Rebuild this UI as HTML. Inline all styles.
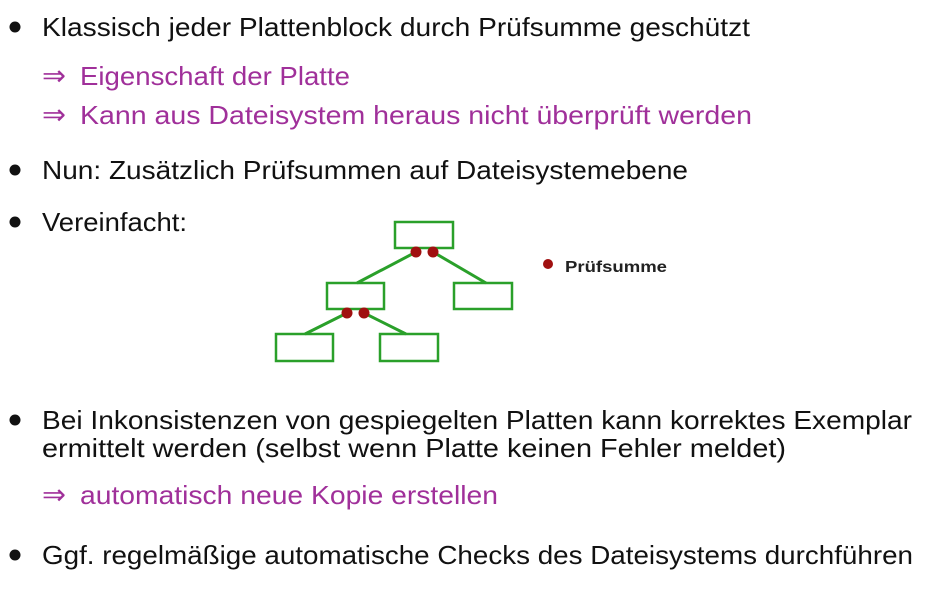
<!DOCTYPE html>
<html><head><meta charset="utf-8"><style>
html,body{margin:0;padding:0;background:#fff;}
svg{display:block}
text{font-family:"Liberation Sans",sans-serif;font-size:26px;fill:#111;}
.p{fill:#a0309a;}
.a{font-size:28px;}
</style></head><body>
<svg width="948" height="600" viewBox="0 0 948 600">
<g fill="#111">
<circle cx="15" cy="27" r="5.5"/>
<circle cx="15" cy="170" r="5.5"/>
<circle cx="15" cy="222" r="5.5"/>
<circle cx="15" cy="420" r="5.5"/>
<circle cx="15" cy="555" r="5.5"/>
</g>
<text x="42" y="36" textLength="708" lengthAdjust="spacingAndGlyphs">Klassisch jeder Plattenblock durch Prüfsumme geschützt</text>
<text class="p a" x="42" y="85" textLength="24" lengthAdjust="spacingAndGlyphs">⇒</text>
<text class="p" x="80" y="85" textLength="270" lengthAdjust="spacingAndGlyphs">Eigenschaft der Platte</text>
<text class="p a" x="42" y="124" textLength="24" lengthAdjust="spacingAndGlyphs">⇒</text>
<text class="p" x="80" y="124" textLength="672" lengthAdjust="spacingAndGlyphs">Kann aus Dateisystem heraus nicht überprüft werden</text>
<text x="42" y="179" textLength="646" lengthAdjust="spacingAndGlyphs">Nun: Zusätzlich Prüfsummen auf Dateisystemebene</text>
<text x="42" y="231" textLength="145" lengthAdjust="spacingAndGlyphs">Vereinfacht:</text>
<text x="42" y="429" textLength="870" lengthAdjust="spacingAndGlyphs">Bei Inkonsistenzen von gespiegelten Platten kann korrektes Exemplar</text>
<text x="42" y="457" textLength="744" lengthAdjust="spacingAndGlyphs">ermittelt werden (selbst wenn Platte keinen Fehler meldet)</text>
<text class="p a" x="42" y="504" textLength="24" lengthAdjust="spacingAndGlyphs">⇒</text>
<text class="p" x="80" y="504" textLength="418" lengthAdjust="spacingAndGlyphs">automatisch neue Kopie erstellen</text>
<text x="42" y="564" textLength="871" lengthAdjust="spacingAndGlyphs">Ggf. regelmäßige automatische Checks des Dateisystems durchführen</text>

<g stroke="#2aa02a" stroke-width="2.5" fill="none">
<rect x="395" y="222" width="58" height="26"/>
<rect x="327" y="283" width="57" height="26"/>
<rect x="454" y="283" width="58" height="26"/>
<rect x="276" y="334" width="57" height="27"/>
<rect x="380" y="334" width="58" height="27"/>
</g>
<g stroke="#2aa02a" stroke-width="3" fill="none">
<line x1="416" y1="252" x2="357" y2="283"/>
<line x1="433" y1="252" x2="486" y2="283"/>
<line x1="347" y1="313" x2="305" y2="334"/>
<line x1="364" y1="313" x2="406" y2="334"/>
</g>
<g fill="#a01010">
<circle cx="416" cy="252" r="5.5"/>
<circle cx="433" cy="252" r="5.5"/>
<circle cx="347" cy="313" r="5.5"/>
<circle cx="364" cy="313" r="5.5"/>
<circle cx="548" cy="264" r="5"/>
</g>
<text x="565" y="272" style="font-size:16px;font-weight:bold;fill:#222" textLength="102" lengthAdjust="spacingAndGlyphs">Prüfsumme</text>
</svg>
</body></html>
